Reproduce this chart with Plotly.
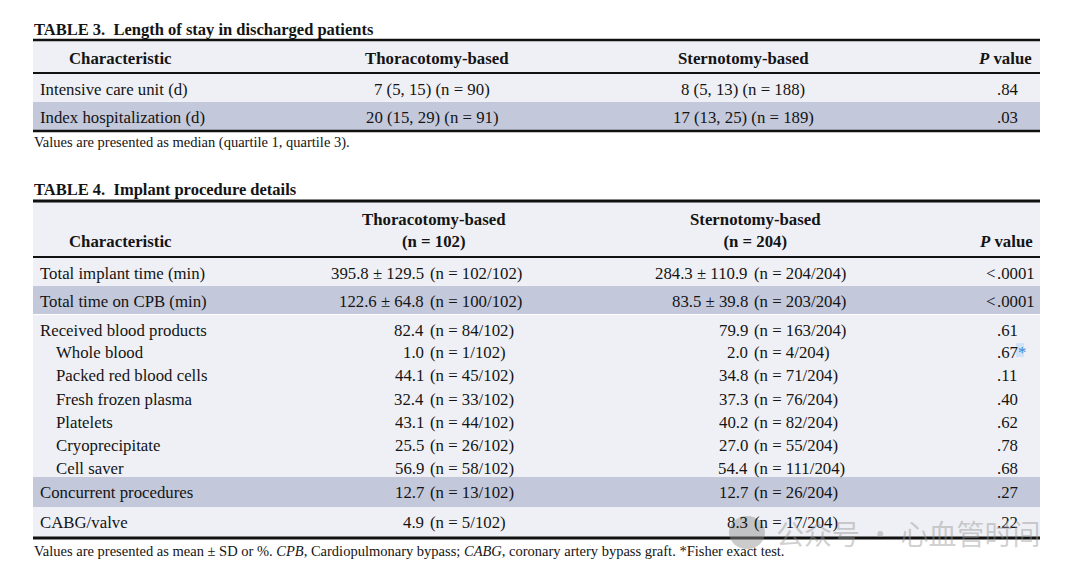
import plotly.graph_objects as go

# ---- data ----
t3_title = "TABLE 3.  Length of stay in discharged patients"
t3_header = ["Characteristic", "Thoracotomy-based", "Sternotomy-based", "<i>P</i> value"]
t3_rows = ["Intensive care unit (d)", "Index hospitalization (d)"]
t3_thor = ["7 (5, 15) (n = 90)", "20 (15, 29) (n = 91)"]
t3_stern = ["8 (5, 13) (n = 188)", "17 (13, 25) (n = 189)"]
t3_p = [".84", ".03"]
t3_note = "Values are presented as median (quartile 1, quartile 3)."

t4_title = "TABLE 4.  Implant procedure details"
t4_header = ["Characteristic", "Thoracotomy-based<br>(n = 102)", "Sternotomy-based<br>(n = 204)", "<i>P</i> value"]
t4_rows = ["Total implant time (min)", "Total time on CPB (min)", "Received blood products",
           "Whole blood", "Packed red blood cells", "Fresh frozen plasma", "Platelets",
           "Cryoprecipitate", "Cell saver", "Concurrent procedures", "CABG/valve"]
t4_thor = ["395.8 ± 129.5 (n = 102/102)", "122.6 ± 64.8 (n = 100/102)", "82.4 (n = 84/102)",
           "1.0 (n = 1/102)", "44.1 (n = 45/102)", "32.4 (n = 33/102)", "43.1 (n = 44/102)",
           "25.5 (n = 26/102)", "56.9 (n = 58/102)", "12.7 (n = 13/102)", "4.9 (n = 5/102)"]
t4_stern = ["284.3 ± 110.9 (n = 204/204)", "83.5 ± 39.8 (n = 203/204)", "79.9 (n = 163/204)",
            "2.0 (n = 4/204)", "34.8 (n = 71/204)", "37.3 (n = 76/204)", "40.2 (n = 82/204)",
            "27.0 (n = 55/204)", "54.4 (n = 111/204)", "12.7 (n = 26/204)", "8.3 (n = 17/204)"]
t4_p = ["<.0001", "<.0001", ".61", ".67*", ".11", ".40", ".62", ".78", ".68", ".27", ".22"]
t4_note = ("Values are presented as mean ± SD or %. <i>CPB</i>, Cardiopulmonary bypass; "
           "<i>CABG</i>, coronary artery bypass graft. *Fisher exact test.")
watermark = "公众号 · 心血管时间"

# ---- layout / style ----
FONT = "Liberation Serif, Times New Roman, serif"
INK = "#141414"
LIGHT = "#eff0f5"
DARK = "#c3c8db"
X0, X1 = 33, 1040
BODY = 16.8

t4_y = [273, 301, 330, 352, 375, 399, 422, 445, 468, 492, 522]
t4_indent = [0, 0, 0, 1, 1, 1, 1, 1, 1, 0, 0]

fig = go.Figure()
shapes = []
ann = []


def txt(x, y, s, anchor="left", size=BODY, bold=False, color=INK):
    if bold:
        s = "<b>" + s.replace("<br>", "</b><br><b>") + "</b>"
    ann.append(dict(x=x, y=y, xref="x", yref="y", text=s, showarrow=False,
                    xanchor=anchor, yanchor="middle", borderpad=0,
                    font=dict(family=FONT, size=size, color=color)))


def band(y0, y1, color):
    shapes.append(dict(type="rect", xref="x", yref="y", x0=X0, x1=X1, y0=y0, y1=y1,
                       fillcolor=color, line=dict(width=0), layer="below"))


def rule(y, w):
    shapes.append(dict(type="line", xref="x", yref="y", x0=X0, x1=X1, y0=y, y1=y,
                       line=dict(color="#111", width=w)))


def p_cell(x_dec, y, s):
    # decimal aligned p values
    left, right = s.split(".", 1)
    if left:
        txt(x_dec, y, left, "right")
    right = "." + right
    if right.endswith("*"):
        right = right[:-1] + "<span style='color:#3a8ad6'>*</span>"
    txt(x_dec, y, right, "left")


def n_cell(x_split, y, s):
    # align on "(n"
    head, tail = s.split(" (n", 1)
    txt(x_split - 4, y, head, "right")
    txt(x_split, y, "(n" + tail, "left")


# TABLE 3
txt(X0, 29, t3_title, size=16.5, bold=True)
band(41, 72, LIGHT)
band(74, 102, LIGHT)
band(102, 130, DARK)
rule(40, 2.5)
rule(73, 2)
rule(131, 2.5)
txt(120, 58, t3_header[0], "center", bold=True)
txt(437, 58, t3_header[1], "center", bold=True)
txt(743, 58, t3_header[2], "center", bold=True)
txt(1033, 58, t3_header[3], "right", bold=True)
for i, y in enumerate([89, 117]):
    txt(39, y, t3_rows[i])
    txt(432, y, t3_thor[i], "center")
    txt(743, y, t3_stern[i], "center")
    p_cell(996, y, t3_p[i])
txt(X0, 142, t3_note, size=14.5)

# TABLE 4
txt(X0, 189, t4_title, size=16.5, bold=True)
band(202, 256, LIGHT)
band(258, 286, LIGHT)
band(286, 314, DARK)
band(315, 477, LIGHT)
band(477, 507, DARK)
band(507, 537, LIGHT)
rule(201, 3)
rule(257, 2)
rule(538, 3)
txt(120, 241, t4_header[0], "center", bold=True)
txt(434, 230, t4_header[1], "center", bold=True)
txt(755, 230, t4_header[2], "center", bold=True)
txt(1034, 241, t4_header[3], "right", bold=True)
for i, y in enumerate(t4_y):
    txt(39 + 16 * t4_indent[i], y, t4_rows[i])
    n_cell(429, y, t4_thor[i])
    n_cell(753, y, t4_stern[i])
    if t4_p[i].endswith("*"):
        shapes.append(dict(type="rect", xref="x", yref="y", x0=1016, x1=1024, y0=343, y1=357,
                           fillcolor="#cfe2f6", line=dict(width=0), layer="below"))
    p_cell(996, y, t4_p[i])
txt(X0, 551, t4_note, size=14.5)

# watermark
shapes.append(dict(type="circle", xref="x", yref="y", x0=729, x1=765, y0=516, y1=549,
                   fillcolor="rgba(140,140,140,0.45)", line=dict(width=0)))
txt(775, 533, watermark, size=28, color="rgba(150,150,150,0.45)")
ann[-1]["font"]["family"] = "Noto Sans CJK SC"

# the page body has an 8px margin, so the plot area is shifted by that much
fig.update_layout(
    width=1072, height=567,
    margin=dict(l=0, r=0, t=0, b=0),
    paper_bgcolor="white", plot_bgcolor="white",
    xaxis=dict(range=[8, 1080], visible=False, fixedrange=True),
    yaxis=dict(range=[575, 8], visible=False, fixedrange=True),
    shapes=shapes, annotations=ann, showlegend=False,
)
fig.write_html("out.html")
